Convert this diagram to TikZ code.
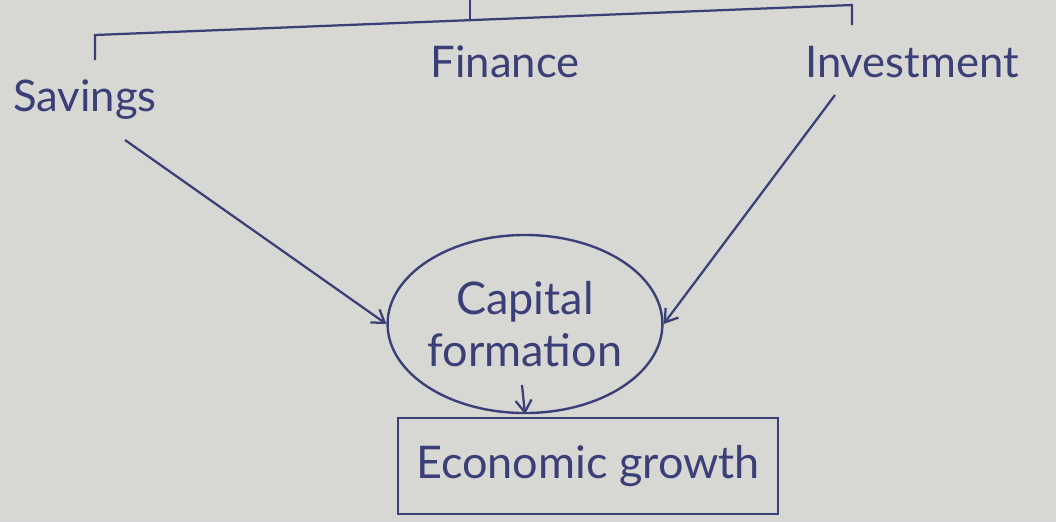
\documentclass[tikz,border=0pt]{standalone}
\usepackage{fontspec}
\setmainfont{Lato}
\usetikzlibrary{arrows.meta,shapes.geometric}
\definecolor{ink}{HTML}{3B3F78}
\definecolor{paper}{HTML}{D7D7D3}
\begin{document}
\begin{tikzpicture}[
  x=0.025cm, y=-0.025cm,
  word/.style={text=ink, font=\fontsize{31}{34}\selectfont, inner sep=2pt},
  blob/.style={ellipse, draw=ink, line width=1.7pt, minimum width=6.6cm,
               minimum height=4.45cm, inner sep=0pt, align=center, text=ink,
               font=\fontsize{32}{37}\selectfont},
  outcome/.style={rectangle, draw=ink, line width=1.7pt, minimum width=9.5cm,
                  minimum height=2.4cm, text=ink, font=\fontsize{32}{36}\selectfont},
  arr/.style={-{Straight Barb[length=3mm,width=4mm]}, ink, line width=1.6pt}
]
  % paper
  \fill[paper] (0,0) rectangle (1056,522);
  \useasboundingbox (0,0) rectangle (1056,522);

  % Labels
  \node[word] (savings) at (85,100) {Savings};
  \node[word] (finance) at (505,62) {Finance};
  \node[word] (invest) at (912,62) {Investment};

  % Bracket over the three labels
  \coordinate (bl) at (95,60);
  \coordinate (blt) at (95,35);
  \coordinate (brt) at (852,5);
  \coordinate (br) at (852,25);
  \coordinate (mid) at (470,19);
  \coordinate (midt) at (470,0);
  \draw[ink, line width=1.6pt] (bl) -- (blt) -- (brt) -- (br);
  \draw[ink, line width=1.6pt] (mid) -- (midt);

  % Capital formation and growth
  \node[blob] (capital) at (525,324) {Capital\\formation};
  \node[outcome] (growth) at (588,466) {Economic growth};

  % Arrows
  \coordinate (s0) at (125,140);
  \coordinate (i0) at (835,95);
  \coordinate (c0) at (522,385);
  \draw[arr] (s0) -- (capital.west);
  \draw[arr] (i0) -- (capital.east);
  \draw[arr] (c0) -- (capital.south);
\end{tikzpicture}
\end{document}
